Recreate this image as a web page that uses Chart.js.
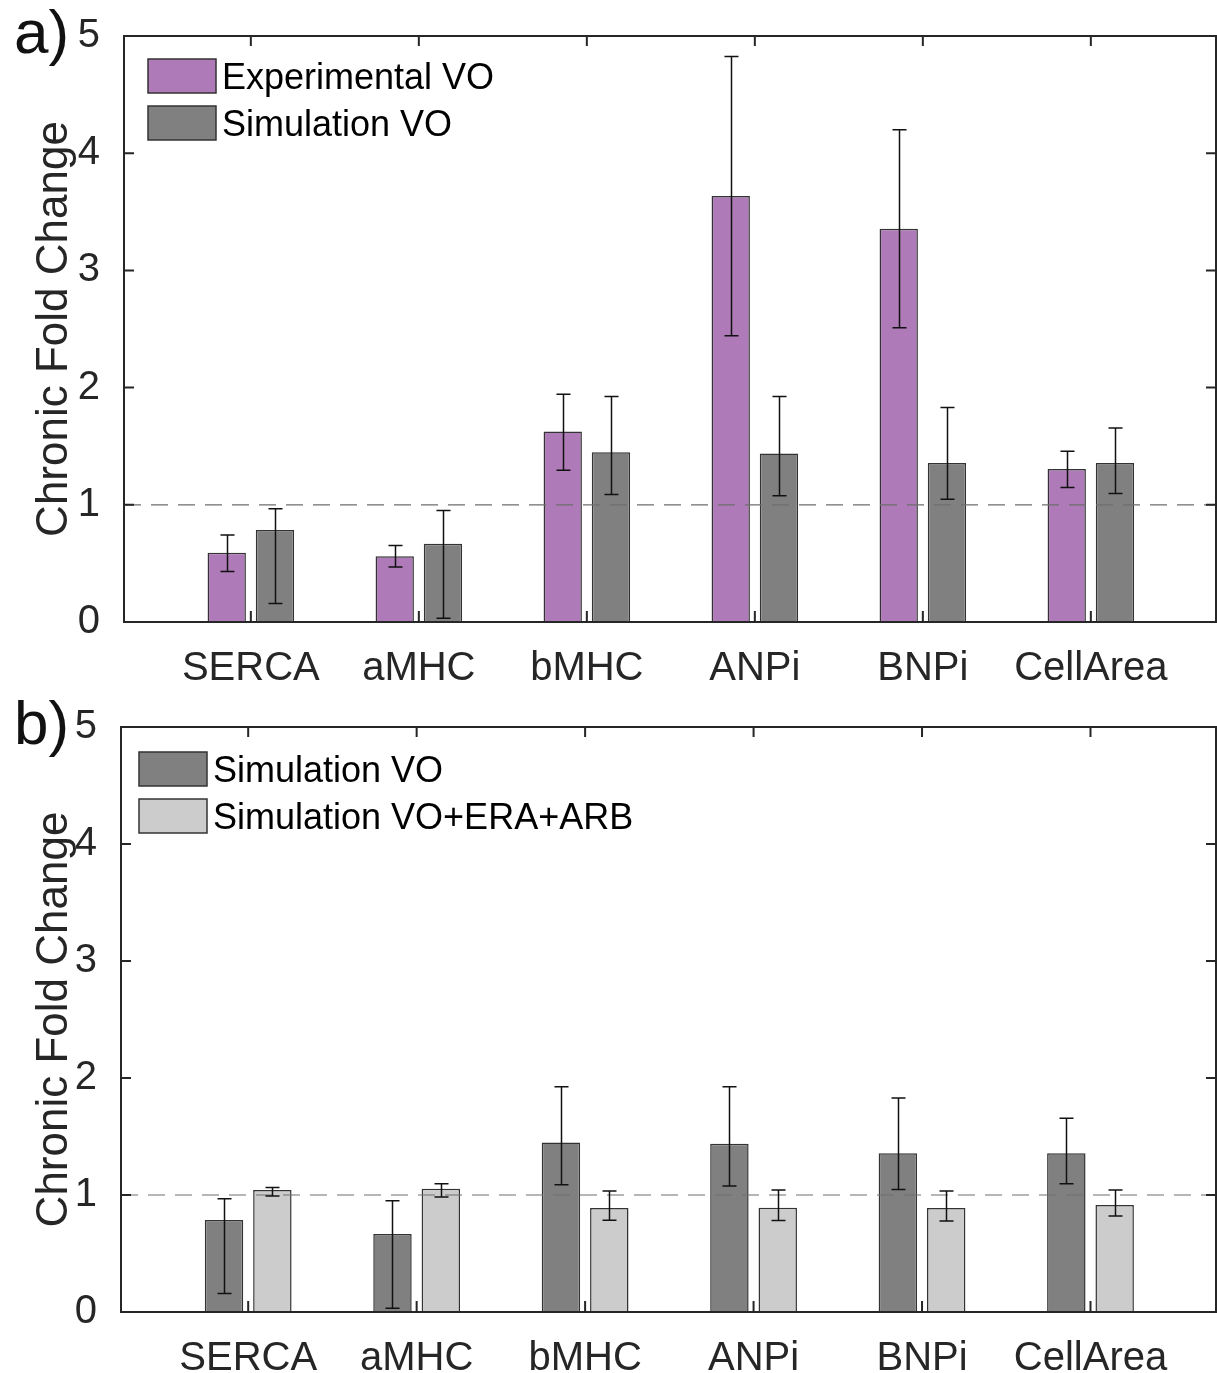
<!DOCTYPE html>
<html>
<head>
<meta charset="utf-8">
<script src="https://cdn.jsdelivr.net/npm/chart.js@4.4.0/dist/chart.umd.min.js"></script>
<style>
  body { margin: 0; background: #fff; width: 1217px; height: 1373px; position: relative; overflow: hidden;
         font-family: "Liberation Sans", Arial, sans-serif; }
  .panel { position: absolute; left: 0; width: 1217px; }
  .tag { position: absolute; left: 14px; font-size: 62px; line-height: 62px; color: #111; }
</style>
</head>
<body>
<div class="panel" style="top:0;height:690px"><canvas id="chartA" width="1217" height="690"></canvas></div>
<div class="panel" style="top:690px;height:683px"><canvas id="chartB" width="1217" height="683"></canvas></div>
<div class="tag" style="top:1px">a)</div>
<div class="tag" style="top:692px">b)</div>

<script>
// ---- datos ----
const categories = ['SERCA', 'aMHC', 'bMHC', 'ANPi', 'BNPi', 'CellArea'];
const yTicks = [0, 1, 2, 3, 4, 5];
const refLine = 1;

const expVO     = [0.59, 0.56, 1.625, 3.635, 3.355, 1.305];
const expVOLow  = [0.43, 0.47, 1.295, 2.443, 2.51, 1.148];
const expVOHigh = [0.743, 0.652, 1.944, 4.826, 4.2, 1.457];

const simVO     = [0.786, 0.667, 1.448, 1.438, 1.356, 1.356];
const simVOLow  = [0.158, 0.033, 1.088, 1.077, 1.047, 1.096];
const simVOHigh = [0.967, 0.951, 1.925, 1.925, 1.83, 1.655];

const simDrug     = [1.043, 1.054, 0.889, 0.892, 0.889, 0.915];
const simDrugLow  = [0.991, 0.983, 0.784, 0.781, 0.778, 0.821];
const simDrugHigh = [1.065, 1.097, 1.034, 1.043, 1.034, 1.043];

const FONT = '"Liberation Sans", Arial, sans-serif';
const AXIS = '#262626';
const PURPLE = '#ae7ab7';
const DARK = '#808080';
const LIGHT = '#cccccc';

const toPoints = vals => vals.map((v, i) => ({ x: i, y: v }));

// error bars, línea punteada, marco con ticks hacia adentro y leyenda
const framePlugin = {
    id: 'frame',
    afterDatasetsDraw(chart, args, opts) {
        const { ctx, chartArea: a, scales: { x, y } } = chart;
        ctx.save();

        // línea de referencia en 1
        const yRef = y.getPixelForValue(refLine);
        ctx.strokeStyle = '#6e6e6e';
        ctx.lineWidth = 1.2;
        ctx.setLineDash([17, 10]);
        ctx.beginPath();
        ctx.moveTo(a.left, yRef);
        ctx.lineTo(a.right, yRef);
        ctx.stroke();
        ctx.setLineDash([]);

        // barras de error
        ctx.strokeStyle = '#111';
        ctx.lineWidth = 1.5;
        chart.data.datasets.forEach((ds, i) => {
            chart.getDatasetMeta(i).data.forEach((bar, j) => {
                const lo = y.getPixelForValue(ds.errLow[j]);
                const hi = y.getPixelForValue(ds.errHigh[j]);
                const cx = Math.round(bar.x) + 0.5;
                ctx.beginPath();
                ctx.moveTo(cx, lo); ctx.lineTo(cx, hi);
                ctx.moveTo(cx - 7, lo); ctx.lineTo(cx + 7, lo);
                ctx.moveTo(cx - 7, hi); ctx.lineTo(cx + 7, hi);
                ctx.stroke();
            });
        });

        // marco y ticks
        ctx.strokeStyle = AXIS;
        ctx.lineWidth = 2;
        ctx.strokeRect(a.left, a.top, a.right - a.left, a.bottom - a.top);
        ctx.beginPath();
        yTicks.forEach(v => {
            const py = y.getPixelForValue(v);
            ctx.moveTo(a.left, py); ctx.lineTo(a.left + 10, py);
            ctx.moveTo(a.right, py); ctx.lineTo(a.right - 10, py);
        });
        categories.forEach((c, i) => {
            const px = x.getPixelForValue(i);
            ctx.moveTo(px, a.top); ctx.lineTo(px, a.top + 10);
            ctx.moveTo(px, a.bottom); ctx.lineTo(px, a.bottom - 11);
        });
        ctx.stroke();

        // leyenda
        const lx = a.left + opts.legendLeft;
        let ly = a.top + opts.legendTop;
        ctx.font = `36px ${FONT}`;
        ctx.textBaseline = 'middle';
        ctx.textAlign = 'left';
        chart.data.datasets.forEach(ds => {
            ctx.fillStyle = ds.backgroundColor;
            ctx.fillRect(lx, ly, 68, 34);
            ctx.strokeStyle = '#333';
            ctx.lineWidth = 1.5;
            ctx.strokeRect(lx, ly, 68, 34);
            ctx.fillStyle = '#000';
            ctx.fillText(ds.label, lx + 74, ly + 20);
            ly += 47;
        });
        ctx.restore();
    }
};

function makeChart(id, datasets, yWidth, xHeight, padTop, legend) {
    return new Chart(document.getElementById(id), {
        type: 'bar',
        data: { datasets },
        plugins: [framePlugin],
        options: {
            responsive: false,
            animation: false,
            layout: { padding: { top: padTop, right: 1, left: 0, bottom: 0 } },
            datasets: { bar: { categoryPercentage: 0.574, barPercentage: 0.795 } },
            plugins: { legend: { display: false }, tooltip: { enabled: false }, frame: legend },
            scales: {
                x: {
                    type: 'linear',
                    offset: false,
                    min: -0.755, max: 5.745,
                    grid: { display: false },
                    border: { display: false },
                    afterBuildTicks: s => { s.ticks = categories.map((c, i) => ({ value: i })); },
                    afterFit: s => { s.height = xHeight; },
                    ticks: {
                        callback: v => categories[v],
                        font: { family: FONT, size: 40 },
                        color: AXIS,
                        padding: 15,
                        maxRotation: 0,
                        autoSkip: false
                    }
                },
                y: {
                    min: 0, max: 5,
                    grid: { display: false },
                    border: { display: false },
                    afterBuildTicks: s => { s.ticks = yTicks.map(v => ({ value: v })); },
                    afterFit: s => { s.width = yWidth; s.paddingTop = 0; s.paddingBottom = 0; },
                    ticks: { font: { family: FONT, size: 40 }, color: AXIS, padding: 16 },
                    title: {
                        display: true,
                        text: 'Chronic Fold Change',
                        font: { family: FONT, size: 44 },
                        color: AXIS,
                        padding: { top: 28, bottom: 0 }
                    }
                }
            }
        }
    });
}

const barStyle = { borderColor: '#333', borderWidth: 1.5 };

makeChart('chartA', [
    { label: 'Experimental VO', data: toPoints(expVO), errLow: expVOLow, errHigh: expVOHigh, backgroundColor: PURPLE, ...barStyle },
    { label: 'Simulation VO', data: toPoints(simVO), errLow: simVOLow, errHigh: simVOHigh, backgroundColor: DARK, ...barStyle }
], 124, 68, 36, { legendLeft: 24, legendTop: 23 });

makeChart('chartB', [
    { label: 'Simulation VO', data: toPoints(simVO), errLow: simVOLow, errHigh: simVOHigh, backgroundColor: DARK, ...barStyle },
    { label: 'Simulation VO+ERA+ARB', data: toPoints(simDrug), errLow: simDrugLow, errHigh: simDrugHigh, backgroundColor: LIGHT, ...barStyle }
], 121, 61, 37, { legendLeft: 18, legendTop: 25 });
</script>
</body>
</html>
